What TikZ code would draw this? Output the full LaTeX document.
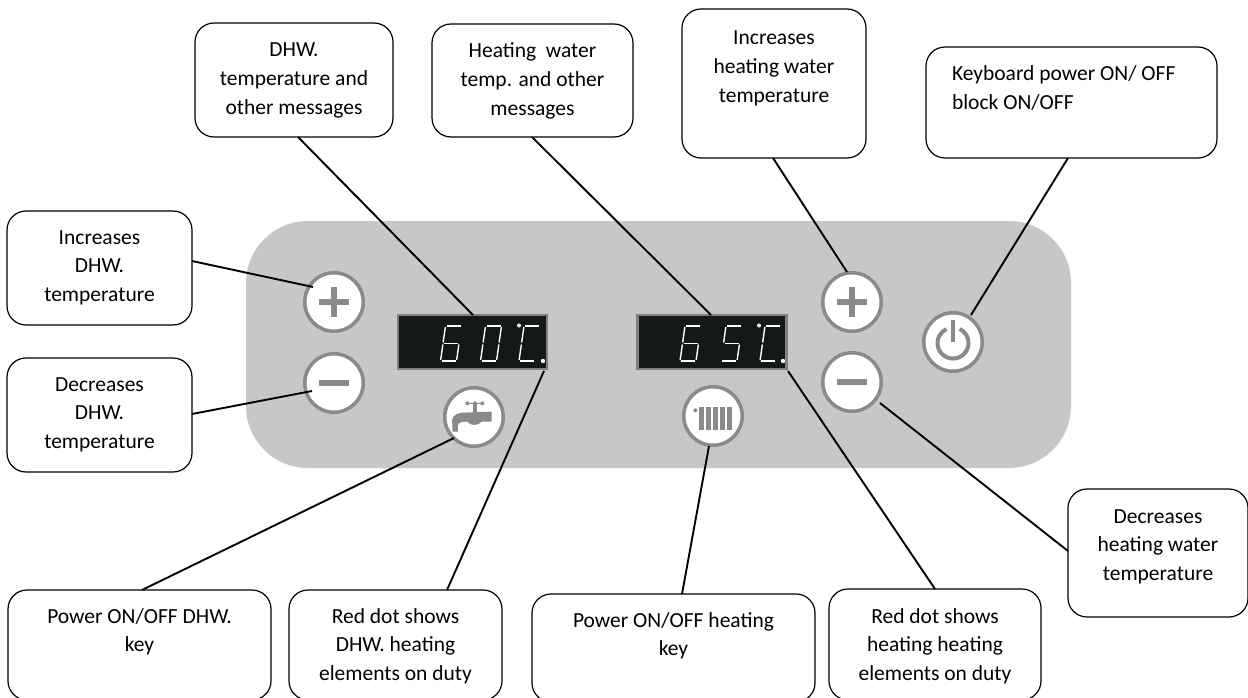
\documentclass[tikz,border=0pt]{standalone}
\usepackage{fontspec}
\setmainfont{Carlito}
\definecolor{panelc}{HTML}{C6C7C6}
\definecolor{ringc}{HTML}{8A8A8A}
\definecolor{dispc}{HTML}{141817}
\definecolor{dispf}{HTML}{7F7F7F}
\tikzset{
  box/.style={draw=black,fill=white,line width=1.2pt,rounded corners=19pt,inner sep=0pt,outer sep=0pt},
  conn/.style={draw=black,line width=1.9pt},
  btn/.style={circle,draw=ringc,fill=white,line width=3.5pt,minimum size=58.5pt,inner sep=0pt,outer sep=0pt},
  disp/.style={rectangle,draw=dispf,fill=dispc,line width=2.2pt,minimum width=149pt,minimum height=54pt,inner sep=0pt,outer sep=0pt},
  seg/.style={draw=white,line width=1.4pt,shorten <=1pt,shorten >=1pt},
  icon/.style={fill=ringc,draw=none},
  iconline/.style={draw=ringc,line width=5.5pt},
}
% name, x1, y1, x2, y2, first baseline, text
\newcommand{\callout}[8][\centering]{%
  \pgfmathsetmacro{\cw}{#5-#3}\pgfmathsetmacro{\ch}{#6-#4}%
  \node[box,minimum width=\cw pt,minimum height=\ch pt] (#2) at ({(#3+#5)/2},{(#4+#6)/2})
    {\begin{minipage}[c][\ch pt][t]{\cw pt}\fontsize{21.5}{28.7}\selectfont#1\rule{0pt}{#7pt}#8\end{minipage}};}
\newcommand{\sevdigit}[3]{%
  \begin{scope}[shift={(#1,#2)}]
    \coordinate (sA) at (5,0); \coordinate (sB) at (21,0);
    \coordinate (sC) at (2.5,17.5); \coordinate (sD) at (18.5,17.5);
    \coordinate (sE) at (0,35); \coordinate (sF) at (16,35);
    \foreach \p/\q in {#3} \draw[seg] (s\p) -- (s\q);
  \end{scope}}
\begin{document}
\begin{tikzpicture}[x=1pt,y=-1pt]
\useasboundingbox (0,0) rectangle (1248,698);
\clip (0,0) rectangle (1248,698);
\fill[white] (0,0) rectangle (1248,698);
% panel
\node[rectangle,fill=panelc,rounded corners=62pt,minimum width=825pt,minimum height=247pt,inner sep=0pt,outer sep=0pt] (panel) at (658.5,344.5) {};
% callouts
\callout{incD}{7}{211}{192}{325}{33}{Increases\\DHW.\\temperature}
\callout{decD}{7}{358}{192}{472}{33}{Decreases\\DHW.\\temperature}
\callout{msgD}{195}{23}{393}{137}{34}{DHW.\\temperature and\\other messages}
\callout{msgH}{432}{24}{633}{137}{34}{Heating\ \ water\\temp. and other\\messages}
\callout{incH}{682}{9}{866}{158}{36}{Increases\\heating water\\temperature}
\callout[\raggedright\leftskip=26pt]{kbd}{926}{47}{1217}{158}{34}{Keyboard power ON/ OFF\\block ON/OFF}
\callout{decH}{1068}{489}{1248}{617}{34}{Decreases\\heating water\\temperature}
\callout{pwrD}{8}{590}{271}{700}{33}{Power ON/OFF DHW.\\key}
\callout{dotD}{289}{590}{502}{700}{33}{Red dot shows\\DHW. heating\\elements on duty}
\callout{pwrH}{532}{594}{815}{702}{33}{Power ON/OFF heating\\key}
\callout{dotH}{829}{589}{1041}{700}{34}{Red dot shows\\heating heating\\elements on duty}
% buttons
\node[btn] (plusL) at (334,302) {};
\node[btn] (minusL) at (334,383) {};
\node[btn] (plusR) at (852,302) {};
\node[btn] (minusR) at (852,382) {};
\node[btn] (power) at (953,342) {};
\node[btn] (tap) at (474,417) {};
\node[btn] (rad) at (713,416) {};
% displays
\node[disp] (dispL) at (472.5,342) {};
\node[disp] (dispR) at (712,342) {};
% connectors
\draw[conn] ([yshift=7pt]incD.east) -- ([shift={(-21,-15)}]plusL.center);
\draw[conn] ([yshift=1pt]decD.east) -- ([shift={(-22,8)}]minusL.center);
\draw[conn] ([xshift=4pt]msgD.south) -- ([xshift=0.5pt]dispL.north);
\draw[conn] ([xshift=-0.5pt]msgH.south) -- ([xshift=-1pt]dispR.north);
\draw[conn] ([xshift=-1pt]incH.south) -- ([shift={(-5,-30)}]plusR.center);
\draw[conn] ([xshift=-3.5pt]kbd.south) -- ([shift={(18,-27)}]power.center);
\draw[conn] ([yshift=2pt]decH.west) -- ([shift={(28,21)}]minusR.center);
\draw[conn] ([xshift=2.5pt]pwrD.north) -- ([shift={(-20,21)}]tap.center);
\draw[conn] ([xshift=51.5pt]dotD.north) -- ([xshift=71.5pt,yshift=-2pt]dispL.south);
\draw[conn] ([xshift=8.5pt]pwrH.north) -- ([shift={(-4,30)}]rad.center);
\draw[conn] ([xshift=0pt]dotH.north) -- ([xshift=76pt,yshift=-2pt]dispR.south);
% digits
\sevdigit{440.5}{326}{A/B,A/C,C/D,C/E,E/F,D/F}
\sevdigit{480.5}{326}{A/B,B/D,D/F,F/E,E/C,C/A}
\sevdigit{519}{326}{A/B,A/C,C/E,E/F}
\fill[white] (519,325.5) circle (2pt);
\fill[white] (543,361) circle (2.2pt);
\sevdigit{680}{326}{A/B,A/C,C/D,C/E,E/F,D/F}
\sevdigit{721}{326}{A/B,A/C,C/D,D/F,F/E}
\sevdigit{760}{326}{A/B,A/C,C/E,E/F}
\fill[white] (759,325.5) circle (2pt);
\fill[white] (783,361) circle (2.2pt);
% plus and minus glyphs
\foreach \n in {plusL,plusR}{
  \draw[iconline] ([xshift=-15pt]\n.center) -- ([xshift=15pt]\n.center);
  \draw[iconline] ([yshift=15pt]\n.center) -- ([yshift=-15pt]\n.center);
}
\foreach \n in {minusL,minusR}{
  \draw[iconline] ([xshift=-15pt]\n.center) -- ([xshift=15pt]\n.center);
}
% power glyph
\draw[ringc,line width=4pt] (959.55,329) arc[start angle=65,end angle=-245,radius=15.5pt];
\draw[ringc,line width=3.6pt] (953,319.5) -- (953,341.5);
% tap glyph
\begin{scope}[shift={(390,300)},x=0.3333pt,y=-0.3333pt]
  \fill[icon] (305,335) -- (215,338) .. controls (190,342) and (183,355) .. (187,372) -- (187,395) -- (204,395) -- (204,375) .. controls (205,368) and (215,365) .. (232,365) .. controls (240,378) and (265,378) .. (275,365) -- (305,365) -- cycle;
  \fill[icon] (250,312) rectangle (260,338);
  \fill[icon] (232,308) rectangle (277,312);
  \foreach \cx in {232,255,277} \fill[icon] (\cx,310) circle (2pt);
\end{scope}
% radiator glyph
\begin{scope}[shift={(630,300)},x=0.3333pt,y=-0.3333pt]
  \foreach \bx in {207,228,249,270,292} \fill[icon] (\bx,322) rectangle (\bx+14,389);
  \fill[icon] (196,331) circle (2pt);
\end{scope}
\end{tikzpicture}
\end{document}
